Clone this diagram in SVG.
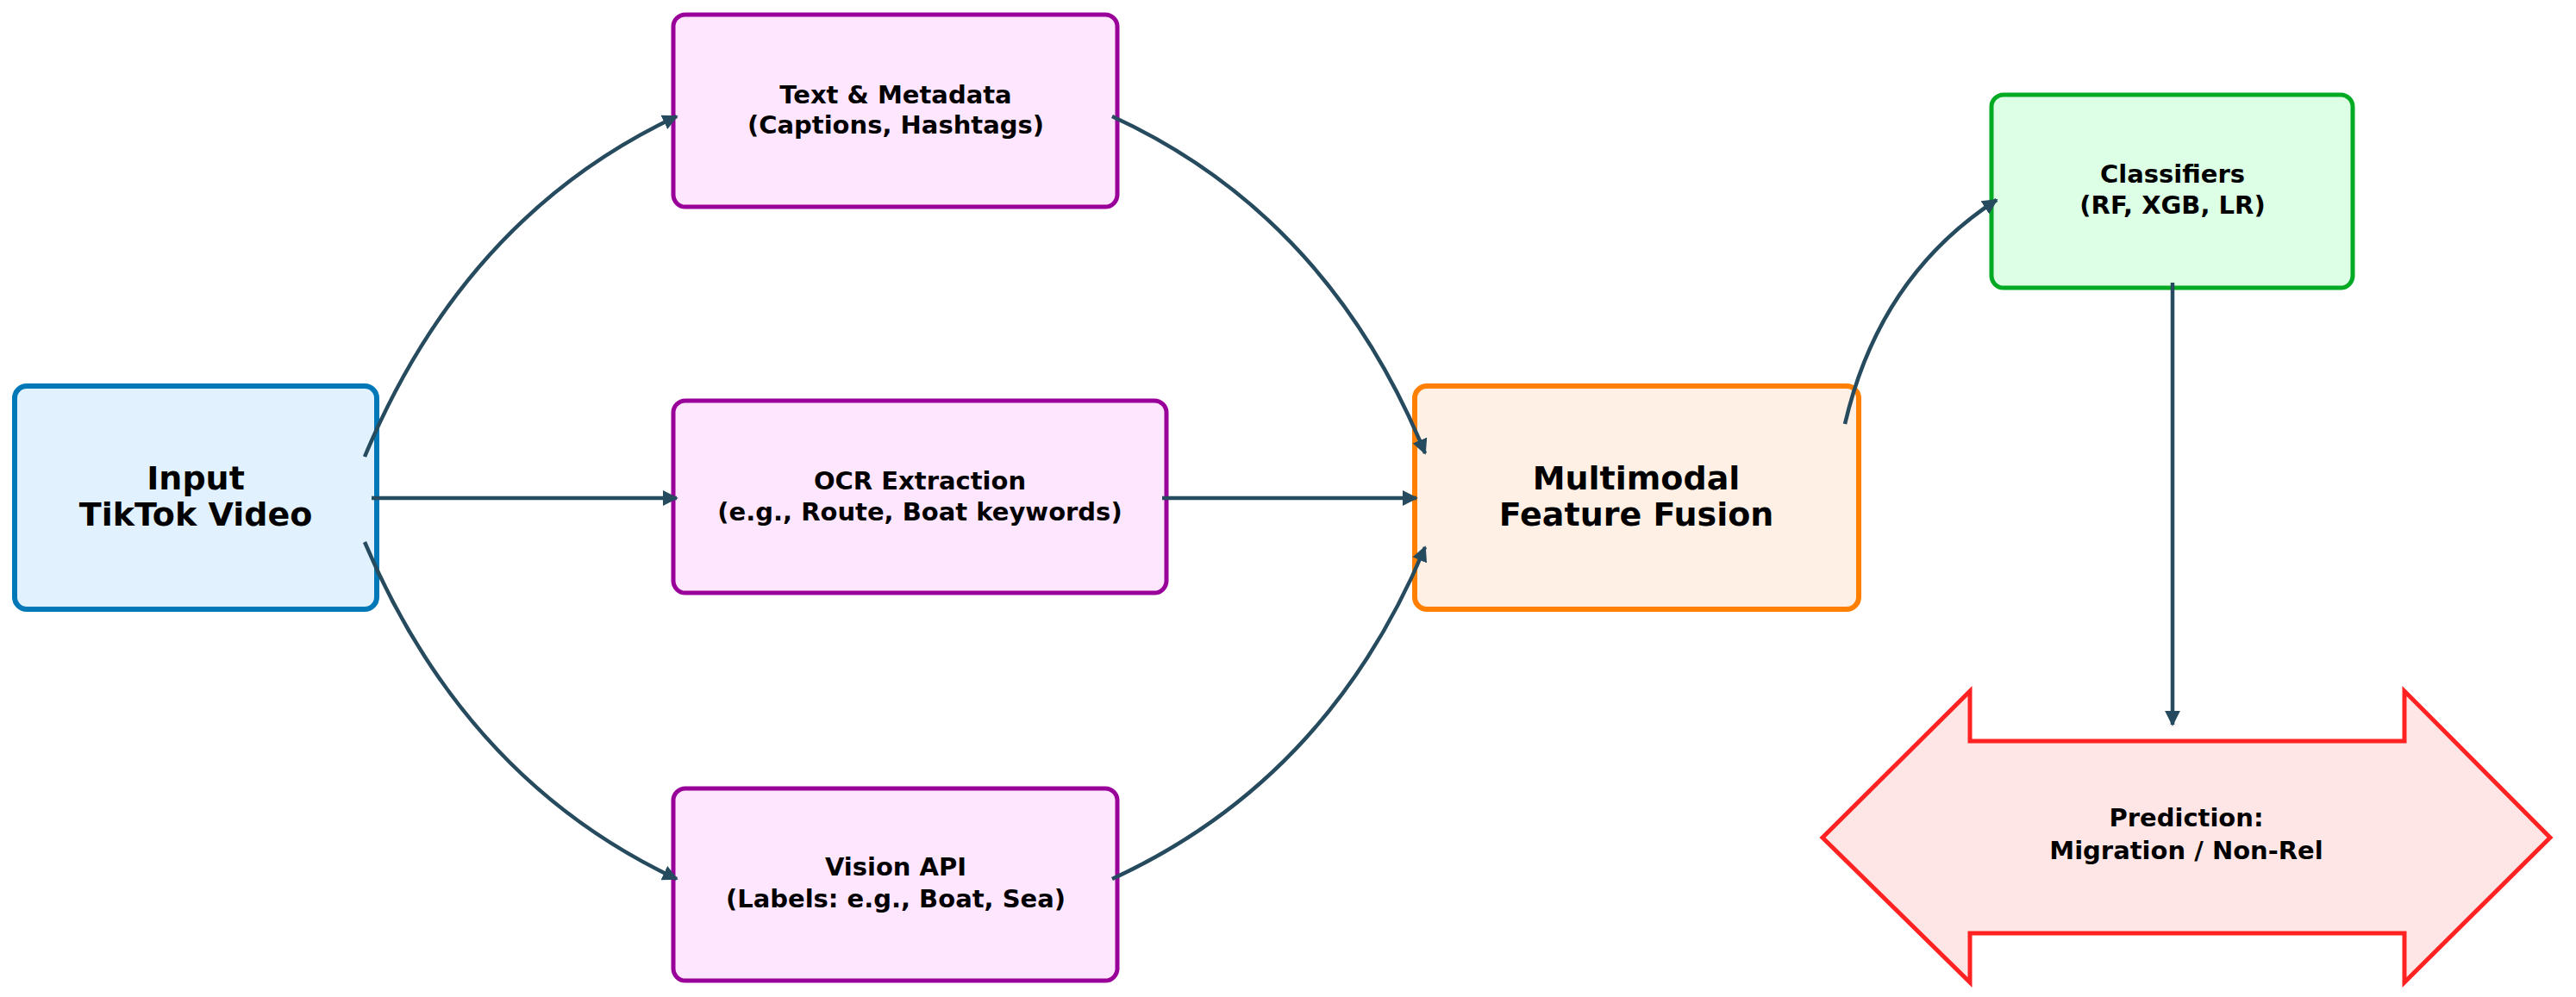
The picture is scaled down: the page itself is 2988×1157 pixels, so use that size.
<svg xmlns="http://www.w3.org/2000/svg" width="2988" height="1157" viewBox="0 0 2988 1157">
<defs>
<style>
text{font-family:"DejaVu Sans",sans-serif;font-weight:bold;fill:#000;text-anchor:middle;dominant-baseline:central}
.s{font-size:29px}.l{font-size:38px}
.c{fill:none;stroke:#264a5e;stroke-width:4.5;marker-end:url(#a)}
.p{fill:#ffe6ff;stroke:#990099;stroke-width:5}
</style>
<marker id="a" viewBox="0 0 10 10" refX="9" refY="5" markerWidth="4" markerHeight="4" orient="auto"><path d="M0,0 L10,5 L0,10 z" fill="#264a5e"/></marker>
</defs>
<rect width="2988" height="1157" fill="#fff"/>
<g id="input"><rect x="17" y="448" width="420" height="259" rx="14" fill="#e1f2fe" stroke="#0077b6" stroke-width="6"/><text class="l" x="227" y="555">Input</text><text class="l" x="227" y="597">TikTok Video</text></g>
<g id="text"><rect class="p" x="781" y="17" width="515" height="223" rx="14"/><text class="s" x="1039" y="110">Text &amp; Metadata</text><text class="s" x="1039" y="145">(Captions, Hashtags)</text></g>
<g id="ocr"><rect class="p" x="781" y="465" width="572" height="223" rx="14"/><text class="s" x="1067" y="558">OCR Extraction</text><text class="s" x="1067" y="594">(e.g., Route, Boat keywords)</text></g>
<g id="vision"><rect class="p" x="781" y="915" width="515" height="223" rx="14"/><text class="s" x="1039" y="1006">Vision API</text><text class="s" x="1039" y="1043">(Labels: e.g., Boat, Sea)</text></g>
<g id="fusion"><rect x="1641" y="448" width="515" height="259" rx="14" fill="#fff0e6" stroke="#ff8000" stroke-width="6"/><text class="l" x="1898" y="555">Multimodal</text><text class="l" x="1898" y="597">Feature Fusion</text></g>
<g id="classifiers"><rect x="2310" y="110" width="419" height="224" rx="14" fill="#dcffe6" stroke="#00aa22" stroke-width="5"/><text class="s" x="2520" y="202">Classifiers</text><text class="s" x="2520" y="238">(RF, XGB, LR)</text></g>
<g id="prediction"><path d="M2114,972 L2285,802 L2285,860 L2789,860 L2789,802 L2958,972 L2789,1140 L2789,1083 L2285,1083 L2285,1140 Z" fill="#ffe6e6" stroke="#ff2222" stroke-width="5"/><text class="s" x="2536" y="949">Prediction:</text><text class="s" x="2536" y="987">Migration / Non-Rel</text></g>
<g id="connectors">
<path class="c" d="M423,530 Q540,250 785,135"/>
<path class="c" d="M431,578 L785,578"/>
<path class="c" d="M423,629 Q540,905 785,1020"/>
<path class="c" d="M1290,135 Q1540,250 1653,526"/>
<path class="c" d="M1348,578 L1643,578"/>
<path class="c" d="M1290,1020 Q1540,905 1653,635"/>
<path class="c" d="M2140,492 Q2180,320 2316,232"/>
<path class="c" d="M2520,328 L2520,841"/>
</g>
</svg>
